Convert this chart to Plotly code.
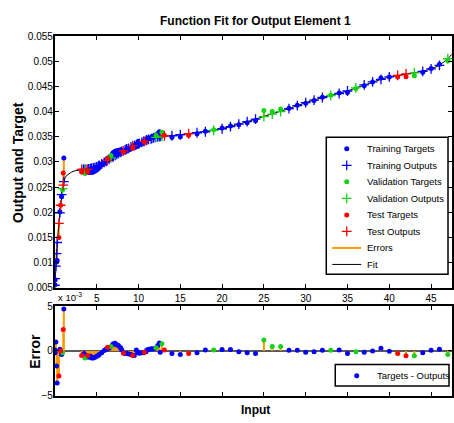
import plotly.graph_objects as go

# ---- data -------------------------------------------------------------
train_x = [0.00, 0.04, 0.12, 0.20, 0.27, 0.60, 0.80, 1.07,
           3.4, 3.5, 3.7, 4.0, 4.2, 4.3, 4.4, 4.6, 4.8, 5.0,
           5.2, 5.3, 5.6, 5.9, 6.1, 6.2, 6.5, 6.9, 7.0, 7.2,
           7.4, 7.6, 7.8, 7.9, 8.0, 8.4, 8.5, 8.6, 8.8, 9.1,
           9.5, 9.75, 9.9, 10.0, 10.1, 10.4, 10.6, 10.9, 11.0, 11.2,
           11.5, 11.6, 11.8, 12.0, 12.3, 12.5, 12.6,
           14, 15, 17, 18, 20, 21, 22, 23, 24, 28, 29, 30, 31, 32,
           34, 35, 37, 38, 39, 40, 44, 45, 46]
train_target = [0.0056, 0.0066, 0.0103, 0.0101, 0.0104, 0.0201, 0.0231, 0.0308,
                0.0281, 0.0282, 0.0279, 0.0279, 0.0280, 0.0281, 0.0279, 0.0280, 0.0282, 0.0284,
                0.0287, 0.0289, 0.0294, 0.02995, 0.0303, 0.0304, 0.0309, 0.0317, 0.0319, 0.03215,
                0.0322, 0.0323, 0.0323, 0.0323, 0.0322, 0.0321, 0.0322, 0.0323, 0.03235, 0.0326,
                0.0328, 0.0336, 0.03345, 0.0334, 0.03345, 0.0337, 0.0339, 0.0342, 0.0345, 0.0347,
                0.03485, 0.0349, 0.03505, 0.0352, 0.0356, 0.0360, 0.03495,
                0.0349, 0.0350, 0.0356, 0.0361, 0.03675, 0.03715, 0.0374, 0.0378, 0.0382,
                0.04067, 0.04127, 0.04165, 0.0422, 0.04287, 0.0437, 0.0438, 0.04515, 0.0459,
                0.0467, 0.04687, 0.0478, 0.04857, 0.0494]
train_output = [0.0055, 0.0068, 0.0093, 0.0118, 0.0140, 0.0199, 0.0235, 0.0261,
                0.0285, 0.0285, 0.0285, 0.0286, 0.0286, 0.0287, 0.0287, 0.0288, 0.0289, 0.0290,
                0.0292, 0.0293, 0.0296, 0.0299, 0.0301, 0.0302, 0.0306, 0.0310, 0.0311, 0.0313,
                0.0315, 0.0317, 0.0319, 0.0320, 0.0321, 0.0324, 0.0325, 0.0326, 0.0327, 0.0330,
                0.0333, 0.0335, 0.0336, 0.0336, 0.0337, 0.0339, 0.0341, 0.0343, 0.0344, 0.0345,
                0.0346, 0.0347, 0.0348, 0.0349, 0.0350, 0.0351, 0.0351,
                0.0352, 0.0354, 0.0358, 0.0360, 0.0366, 0.0370, 0.0375, 0.0380, 0.0385,
                0.0406, 0.0412, 0.0418, 0.0423, 0.0428, 0.0436, 0.0441, 0.0453, 0.0459,
                0.0464, 0.0469, 0.0480, 0.0485, 0.0492]

val_x = [0.92, 3.6, 6.7, 12.1, 12.8, 19, 25, 26, 27, 33, 36, 43, 47]
val_target = [0.0245, 0.0277, 0.0313, 0.03525, 0.0359, 0.0364, 0.04023, 0.0400,
              0.0405, 0.04327, 0.0446, 0.04715, 0.0501]
val_output = [0.0247, 0.0285, 0.0308, 0.0349, 0.0351, 0.0363, 0.0390, 0.0395,
              0.0400, 0.0432, 0.0447, 0.0477, 0.0505]

test_x = [0.48, 0.68, 1.00, 3.2, 3.9, 6.3, 8.2, 9.3, 10.7, 13.1, 16, 41, 42]
test_target = [0.0150, 0.0214, 0.0278, 0.0280, 0.0280, 0.0307, 0.03195, 0.0327,
               0.03395, 0.0353, 0.0353, 0.0469, 0.04695]
test_output = [0.0178, 0.0214, 0.0254, 0.0285, 0.0285, 0.0303, 0.0322, 0.0332,
               0.0341, 0.0352, 0.0356, 0.0472, 0.0475]

fit_x = [0, 0.04, 0.12, 0.2, 0.27, 0.38, 0.48, 0.6, 0.68, 0.8, 0.92, 1.0, 1.07,
         1.2, 1.4, 1.7, 2.0, 2.5, 3.0, 3.6, 4.2, 4.8, 5.4, 6.0, 6.6, 7.2, 7.8,
         8.4, 9.0, 9.6, 10.2, 10.8, 11.4, 12.0, 12.6, 13.1, 14, 15, 16, 17, 18,
         19, 20, 21, 22, 23, 24, 25, 26, 27, 28, 29, 30, 31, 32, 33, 34, 35, 36,
         37, 38, 39, 40, 41, 42, 43, 44, 45, 46, 47, 47.5]
fit_y = [0.0055, 0.0068, 0.0093, 0.0118, 0.0140, 0.0160, 0.0178, 0.0199, 0.0214,
         0.0235, 0.0247, 0.0254, 0.0261, 0.0268, 0.0273, 0.0277, 0.0280, 0.0283,
         0.0284, 0.0285, 0.0286, 0.0289, 0.0294, 0.0300, 0.0307, 0.0313, 0.0319,
         0.0324, 0.0329, 0.0334, 0.0338, 0.0342, 0.0346, 0.0349, 0.0351, 0.0352,
         0.0352, 0.0354, 0.0356, 0.0358, 0.0360, 0.0363, 0.0366, 0.0370, 0.0375,
         0.0380, 0.0385, 0.0390, 0.0395, 0.0400, 0.0406, 0.0412, 0.0418, 0.0423,
         0.0428, 0.0432, 0.0436, 0.0441, 0.0447, 0.0453, 0.0459, 0.0464, 0.0469,
         0.0472, 0.0475, 0.0477, 0.0480, 0.0485, 0.0492, 0.0505, 0.0514]

x_ticks = [5, 10, 15, 20, 25, 30, 35, 40, 45]
y_ticks = [0.005, 0.01, 0.015, 0.02, 0.025, 0.03, 0.035, 0.04, 0.045, 0.05, 0.055]
y_tick_text = ["0.005", "0.01", "0.015", "0.02", "0.025", "0.03", "0.035",
               "0.04", "0.045", "0.05", "0.055"]
err_ticks = [-5, 0, 5]
ERR_SCALE = 1e3  # error axis is shown in units of 10^-3

# ---- styling ----------------------------------------------------------
W, H = 454, 423
SANS = "Liberation Sans, Arial, sans-serif"
BLUE = "rgb(0,0,255)"
GREEN = "rgb(20,210,20)"
RED = "rgb(255,0,0)"
ORANGE = "rgb(255,153,0)"
DOT = dict(symbol="circle", size=5)
PLUS = dict(symbol="cross-thin", size=7)

sets = [
    ("Training", train_x, train_target, train_output, BLUE),
    ("Validation", val_x, val_target, val_output, GREEN),
    ("Test", test_x, test_target, test_output, RED),
]


def px_x(p):
    return p / W


def px_y(p):
    return 1 - p / H


fig = go.Figure()

# error segments between target and output (top) and stems from zero (bottom)
seg_x, seg_y, stem_x, stem_y = [], [], [], []
for _, xs, ts, os_, _c in sets:
    for x, t, o in zip(xs, ts, os_):
        seg_x += [x, x, None]
        seg_y += [t, o, None]
        stem_x += [x, x, None]
        stem_y += [0, (t - o) * ERR_SCALE, None]

fig.add_trace(go.Scatter(x=seg_x, y=seg_y, mode="lines", name="Errors",
                         line=dict(color=ORANGE, width=2), xaxis="x", yaxis="y"))
fig.add_trace(go.Scatter(x=fit_x, y=fit_y, mode="lines", name="Fit",
                         line=dict(color="black", width=1), xaxis="x", yaxis="y"))

for name, xs, ts, os_, col in sets:
    fig.add_trace(go.Scatter(x=xs, y=ts, mode="markers", name=f"{name} Targets",
                             marker=dict(**DOT, color=col), xaxis="x", yaxis="y"))
    fig.add_trace(go.Scatter(x=xs, y=os_, mode="markers", name=f"{name} Outputs",
                             marker=dict(**PLUS, line=dict(color=col, width=1.3)),
                             xaxis="x", yaxis="y"))

# bottom panel: target - output
fig.add_trace(go.Scatter(x=stem_x, y=stem_y, mode="lines", name="Errors",
                         line=dict(color=ORANGE, width=2), xaxis="x2", yaxis="y2"))
for name, xs, ts, os_, col in sets:
    errs = [(t - o) * ERR_SCALE for t, o in zip(ts, os_)]
    fig.add_trace(go.Scatter(x=xs, y=errs, mode="markers", name="Targets - Outputs",
                             marker=dict(**DOT, color=col), xaxis="x2", yaxis="y2"))

# ---- legends (drawn on a pixel-scaled overlay axis) ---------------------
legend_items = [
    ("Training Targets", "dot", BLUE),
    ("Training Outputs", "plus", BLUE),
    ("Validation Targets", "dot", GREEN),
    ("Validation Outputs", "plus", GREEN),
    ("Test Targets", "dot", RED),
    ("Test Outputs", "plus", RED),
    ("Errors", "line", ORANGE),
    ("Fit", "line", "black"),
]
LEG_FONT = dict(family=SANS, size=9.5, color="black")


def legend_box(x0, y0, x1, y1):
    fig.add_shape(type="rect", xref="paper", yref="paper", layer="below",
                  x0=px_x(x0), x1=px_x(x1), y0=px_y(y1), y1=px_y(y0),
                  line=dict(color="black", width=1.5), fillcolor="white")


def legend_key(kind, color, cx, cy):
    if kind == "line":
        fig.add_trace(go.Scatter(x=[cx - 14.5, cx + 14.5], y=[cy, cy], mode="lines",
                                 line=dict(color=color, width=2 if color == ORANGE else 1),
                                 xaxis="x3", yaxis="y3", hoverinfo="skip"))
    else:
        m = dict(**DOT, color=color) if kind == "dot" else \
            dict(**PLUS, line=dict(color=color, width=1.3))
        fig.add_trace(go.Scatter(x=[cx], y=[cy], mode="markers", marker=m,
                                 xaxis="x3", yaxis="y3", hoverinfo="skip"))


legend_box(327, 135, 449, 276)
for i, (label, kind, color) in enumerate(legend_items):
    row = 147 + 17 * i
    legend_key(kind, color, 347.5, row)
    fig.add_annotation(text=label, xref="x3", yref="y3", x=366, y=row,
                       xanchor="left", yanchor="middle", showarrow=False,
                       font=LEG_FONT)

legend_box(336, 369, 450, 391)
legend_key("dot", BLUE, 357.5, 380.5)
fig.add_annotation(text="Targets - Outputs", xref="x3", yref="y3", x=375.5, y=380.5,
                   xanchor="left", yanchor="middle", showarrow=False, font=LEG_FONT)

# ---- axes -------------------------------------------------------------
x_dom = [px_x(55), px_x(453)]
axis_common = dict(showline=True, linecolor="black", linewidth=2, mirror="ticks",
                   ticks="inside", ticklen=4, tickwidth=1, tickcolor="black",
                   showgrid=False, zeroline=False,
                   tickfont=dict(family=SANS, size=10, color="black"))

fig.update_layout(
    width=W, height=H, autosize=False,
    margin=dict(l=0, r=0, t=0, b=0),
    paper_bgcolor="white", plot_bgcolor="rgba(0,0,0,0)",
    showlegend=False,
    xaxis=dict(domain=x_dom, range=[0, 47.5], tickvals=x_ticks, anchor="y",
               **axis_common),
    yaxis=dict(domain=[px_y(290), px_y(31)], range=[0.005, 0.055], tickvals=y_ticks,
               ticktext=y_tick_text, anchor="x", ticklabelstandoff=-2, **axis_common),
    xaxis2=dict(domain=x_dom, range=[0, 47.5], tickvals=x_ticks, anchor="y2",
                showticklabels=False, **axis_common),
    yaxis2=dict(domain=[px_y(401), px_y(309)], range=[-5, 5], tickvals=err_ticks,
                anchor="x2", ticklabelstandoff=-2, **{**axis_common, "zeroline": True},
                zerolinecolor="rgb(90,90,90)", zerolinewidth=1.5),
    xaxis3=dict(domain=[0, 1], range=[0, W], visible=False, fixedrange=True),
    yaxis3=dict(domain=[0, 1], range=[H, 0], visible=False, fixedrange=True),
)

fig.add_annotation(text="<b>Function Fit for Output Element 1</b>", xref="paper",
                   yref="paper", x=px_x(256), y=px_y(15), showarrow=False,
                   xanchor="center", yanchor="middle",
                   font=dict(family=SANS, size=12, color="black"))
fig.add_annotation(text="<b>Output and Target</b>", xref="paper", yref="paper",
                   x=px_x(18), y=px_y(160.5), showarrow=False, textangle=-90,
                   xanchor="center", yanchor="middle",
                   font=dict(family=SANS, size=14, color="black"))
fig.add_annotation(text="<b>Error</b>", xref="paper", yref="paper",
                   x=px_x(35), y=px_y(355), showarrow=False, textangle=-90,
                   xanchor="center", yanchor="middle",
                   font=dict(family=SANS, size=14, color="black"))
fig.add_annotation(text="<b>Input</b>", xref="paper", yref="paper",
                   x=px_x(256), y=px_y(416), showarrow=False,
                   xanchor="center", yanchor="middle",
                   font=dict(family=SANS, size=12, color="black"))
fig.add_annotation(text="x 10<sup>-3</sup>", xref="paper", yref="paper",
                   x=px_x(56), y=px_y(300), showarrow=False,
                   xanchor="left", yanchor="middle",
                   font=dict(family=SANS, size=9.5, color="black"))

fig.write_html("out.html")
